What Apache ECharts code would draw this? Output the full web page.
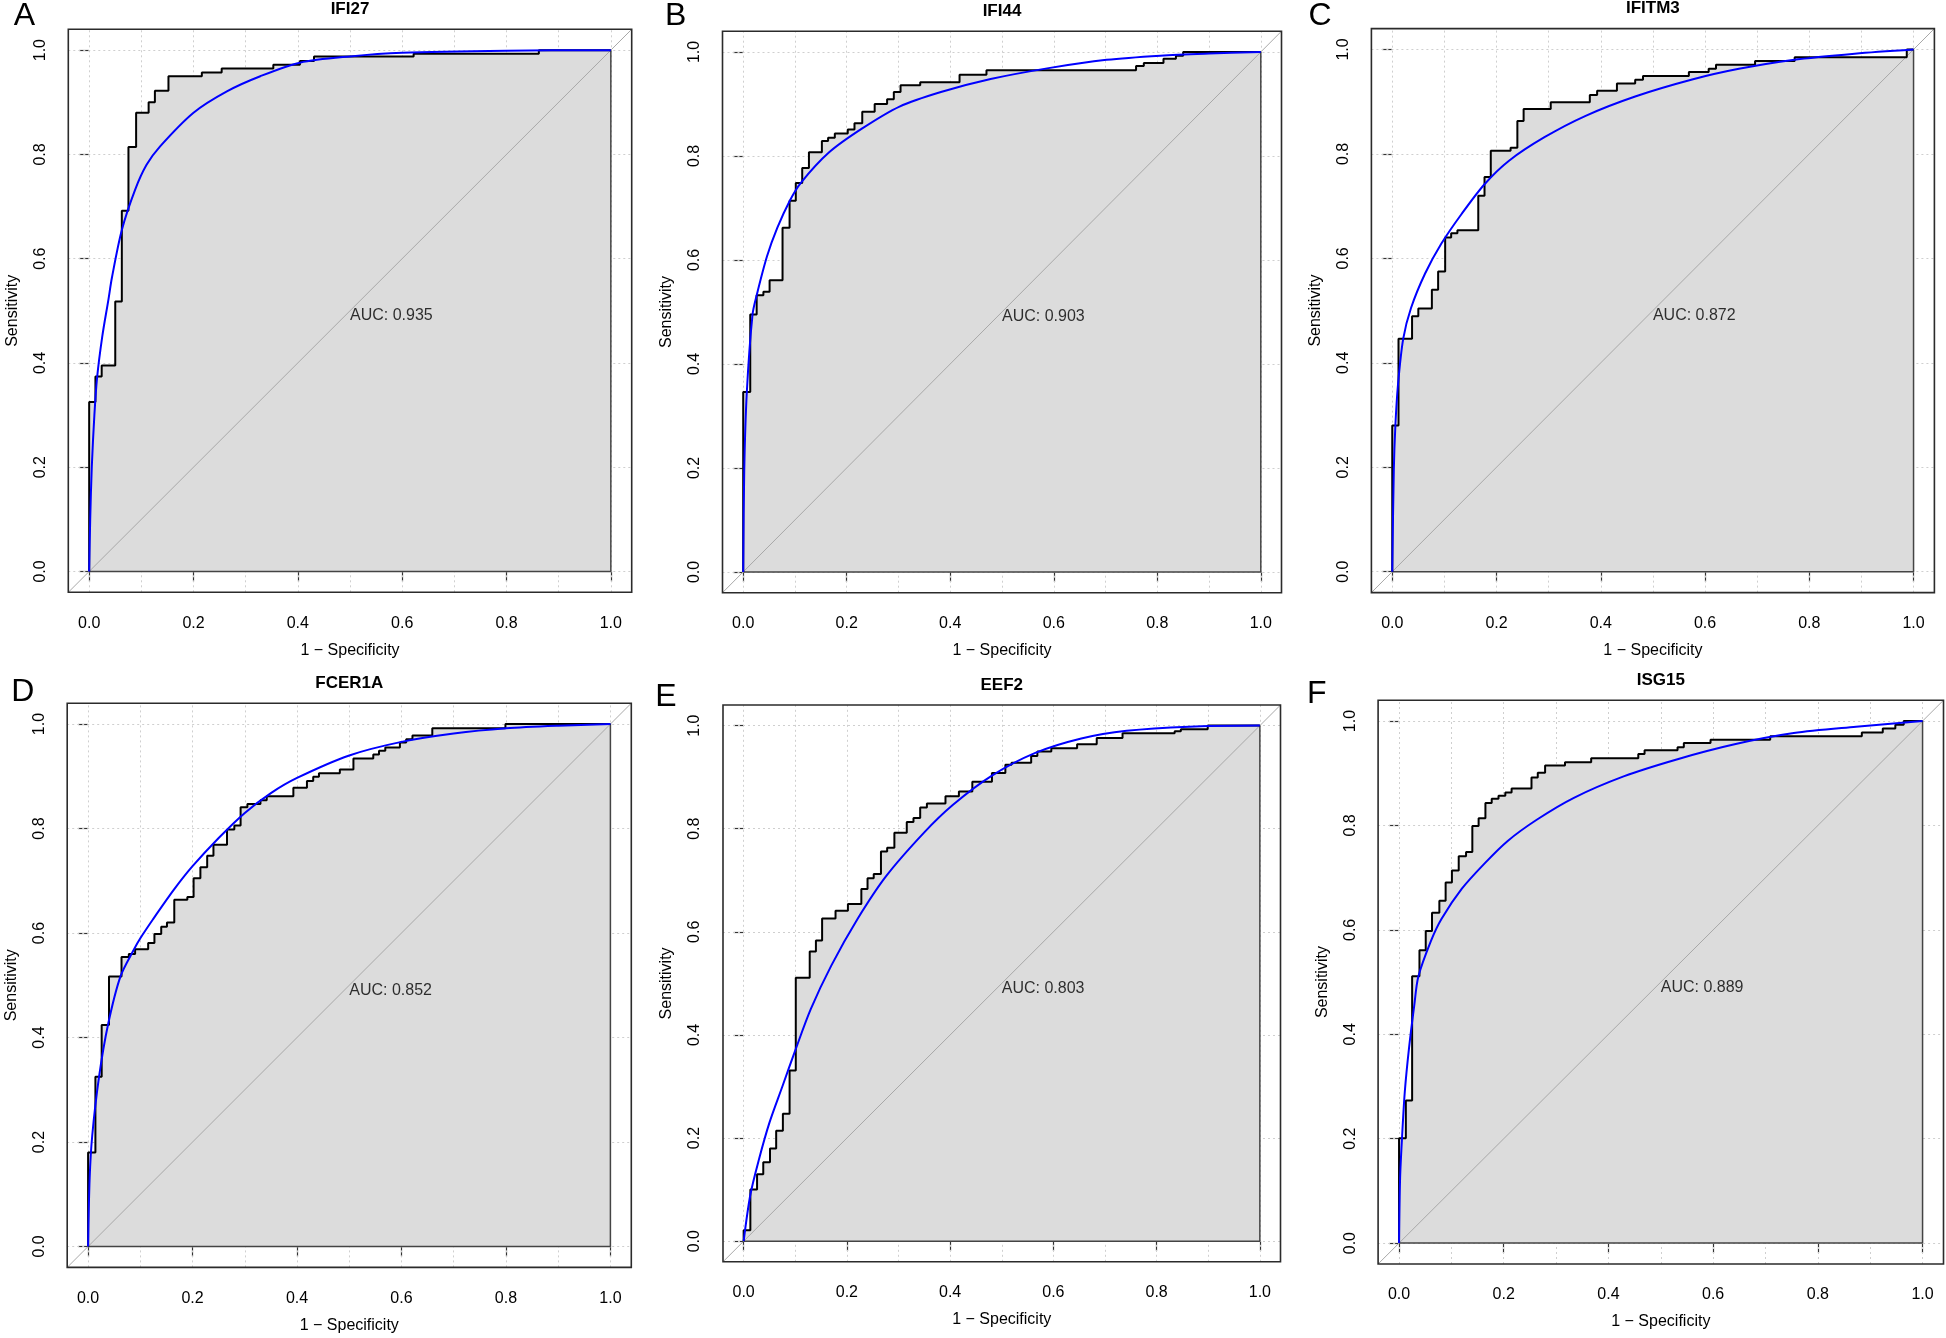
<!DOCTYPE html>
<html>
<head>
<meta charset="utf-8">
<script src="https://cdn.jsdelivr.net/npm/echarts@6/dist/echarts.min.js"></script>
<style>
html,body{margin:0;padding:0;background:#ffffff;}
#chart{width:1946px;height:1338px;}
</style>
</head>
<body>
<div id="chart"></div>
<script>
// ---------------- DATA ----------------
const panelLetters = ['A', 'B', 'C', 'D', 'E', 'F'];
const geneNames = ['IFI27', 'IFI44', 'IFITM3', 'FCER1A', 'EEF2', 'ISG15'];
const aucLabels = ['0.935', '0.903', '0.872', '0.852', '0.803', '0.889'];
const tickValues = [0, 0.2, 0.4, 0.6, 0.8, 1.0];
const gridLinesX = [0, 0.1, 0.2, 0.3, 0.4, 0.5, 0.6, 0.7, 0.8, 0.9, 1.0];
const gridLinesY = [0, 0.2, 0.4, 0.6, 0.8, 1.0];
const axisRange = [-0.04, 1.04];
const aucTextAt = [0.5, 0.5];

// IFI27 (A)
const ifi27StepFpr = [0, 0, 0.012, 0.024, 0.05, 0.0626, 0.0753, 0.09, 0.114, 0.126, 0.152, 0.216, 0.254, 0.353, 0.404, 0.431, 0.622, 0.862, 1];
const ifi27StepTpr = [0, 0.325, 0.374, 0.395, 0.518, 0.692, 0.814, 0.88, 0.9, 0.922, 0.95, 0.957, 0.965, 0.972, 0.979, 0.988, 0.993, 1.0, 1];
const ifi27FitFpr = [0, 0.002, 0.005, 0.01, 0.015, 0.025, 0.037, 0.0435, 0.0626, 0.088, 0.11, 0.136, 0.2, 0.264, 0.328, 0.404, 0.5, 0.6, 0.8, 1];
const ifi27FitTpr = [0, 0.1, 0.2, 0.3, 0.37, 0.45, 0.522, 0.563, 0.655, 0.732, 0.78, 0.8155, 0.88, 0.921, 0.95, 0.976, 0.988, 0.995, 0.999, 1];

// IFI44 (B)
const ifi44StepFpr = [0, 0, 0.0136, 0.026, 0.039, 0.051, 0.076, 0.0896, 0.1016, 0.114, 0.127, 0.152, 0.164, 0.177, 0.202, 0.215, 0.23, 0.254, 0.278, 0.291, 0.304, 0.342, 0.418, 0.47, 0.759, 0.774, 0.812, 0.836, 0.85, 1];
const ifi44StepTpr = [0, 0.346, 0.495, 0.532, 0.539, 0.561, 0.662, 0.714, 0.748, 0.777, 0.807, 0.829, 0.835, 0.843, 0.851, 0.863, 0.885, 0.9, 0.909, 0.923, 0.936, 0.942, 0.956, 0.965, 0.973, 0.979, 0.987, 0.993, 1.0, 1];
const ifi44FitFpr = [0, 0.002, 0.007, 0.018, 0.026, 0.046, 0.066, 0.09, 0.111, 0.166, 0.23, 0.302, 0.382, 0.478, 0.59, 0.702, 0.806, 0.9, 1];
const ifi44FitTpr = [0, 0.195, 0.346, 0.495, 0.532, 0.607, 0.662, 0.714, 0.748, 0.807, 0.853, 0.895, 0.923, 0.948, 0.969, 0.985, 0.993, 0.997, 1];

// IFITM3 (C)
const ifitm3StepFpr = [0, 0, 0.012, 0.038, 0.05, 0.076, 0.088, 0.1015, 0.113, 0.125, 0.165, 0.177, 0.189, 0.227, 0.24, 0.252, 0.304, 0.379, 0.393, 0.431, 0.466, 0.481, 0.569, 0.607, 0.621, 0.696, 0.772, 0.987, 1];
const ifitm3StepTpr = [0, 0.28, 0.446, 0.489, 0.504, 0.54, 0.575, 0.64, 0.648, 0.654, 0.72, 0.756, 0.806, 0.812, 0.863, 0.886, 0.899, 0.913, 0.921, 0.935, 0.942, 0.949, 0.957, 0.963, 0.971, 0.978, 0.985, 1.0, 1];
const ifitm3FitFpr = [0, 0.003, 0.006, 0.011, 0.021, 0.036, 0.063, 0.094, 0.133, 0.177, 0.224, 0.292, 0.371, 0.466, 0.577, 0.665, 0.768, 0.887, 1];
const ifitm3FitTpr = [0, 0.195, 0.28, 0.358, 0.446, 0.505, 0.571, 0.628, 0.685, 0.742, 0.787, 0.832, 0.873, 0.91, 0.943, 0.963, 0.98, 0.992, 1];

// FCER1A (D)
const fcer1aStepFpr = [0, 0, 0.014, 0.026, 0.04, 0.064, 0.078, 0.09, 0.115, 0.127, 0.14, 0.151, 0.165, 0.19, 0.202, 0.215, 0.228, 0.24, 0.266, 0.28, 0.292, 0.305, 0.33, 0.342, 0.393, 0.419, 0.431, 0.442, 0.482, 0.508, 0.546, 0.557, 0.569, 0.597, 0.609, 0.621, 0.659, 0.799, 1];
const fcer1aStepTpr = [0, 0.18, 0.325, 0.424, 0.517, 0.554, 0.56, 0.569, 0.581, 0.598, 0.612, 0.62, 0.664, 0.669, 0.705, 0.726, 0.748, 0.769, 0.798, 0.806, 0.841, 0.847, 0.854, 0.862, 0.878, 0.891, 0.899, 0.906, 0.913, 0.934, 0.942, 0.949, 0.955, 0.965, 0.971, 0.978, 0.992, 1.0, 1];
const fcer1aFitFpr = [0, 0.003, 0.008, 0.021, 0.038, 0.062, 0.088, 0.1, 0.124, 0.165, 0.2, 0.25, 0.3, 0.35, 0.4, 0.5, 0.6, 0.7, 0.8, 0.9, 1];
const fcer1aFitTpr = [0, 0.131, 0.213, 0.325, 0.424, 0.517, 0.569, 0.59, 0.626, 0.684, 0.728, 0.782, 0.83, 0.868, 0.897, 0.94, 0.966, 0.982, 0.992, 0.997, 1];

// EEF2 (E)
const eef2StepFpr = [0, 0, 0.013, 0.026, 0.038, 0.051, 0.063, 0.076, 0.089, 0.101, 0.128, 0.14, 0.152, 0.178, 0.202, 0.228, 0.24, 0.252, 0.266, 0.278, 0.292, 0.316, 0.329, 0.342, 0.355, 0.391, 0.417, 0.443, 0.481, 0.507, 0.519, 0.557, 0.569, 0.596, 0.646, 0.684, 0.734, 0.835, 0.847, 0.899, 1];
const eef2StepTpr = [0, 0.021, 0.1, 0.13, 0.153, 0.18, 0.214, 0.247, 0.331, 0.511, 0.562, 0.583, 0.626, 0.641, 0.654, 0.683, 0.704, 0.712, 0.756, 0.763, 0.792, 0.813, 0.821, 0.841, 0.849, 0.863, 0.872, 0.891, 0.908, 0.924, 0.928, 0.941, 0.95, 0.956, 0.964, 0.976, 0.985, 0.989, 0.993, 1.0, 1];
const eef2FitFpr = [0, 0.013, 0.03, 0.05, 0.075, 0.1, 0.13, 0.17, 0.22, 0.276, 0.349, 0.405, 0.481, 0.565, 0.654, 0.742, 0.863, 1];
const eef2FitTpr = [0, 0.09, 0.16, 0.23, 0.3, 0.37, 0.45, 0.535, 0.624, 0.708, 0.792, 0.846, 0.903, 0.947, 0.975, 0.99, 0.998, 1];

// ISG15 (F)
const isg15StepFpr = [0, 0, 0.013, 0.025, 0.039, 0.051, 0.063, 0.077, 0.089, 0.101, 0.114, 0.128, 0.14, 0.152, 0.165, 0.177, 0.19, 0.203, 0.215, 0.253, 0.265, 0.279, 0.317, 0.367, 0.457, 0.469, 0.532, 0.544, 0.595, 0.709, 0.884, 0.924, 0.948, 0.964, 1];
const isg15StepTpr = [0, 0.201, 0.273, 0.511, 0.561, 0.598, 0.633, 0.656, 0.691, 0.714, 0.741, 0.749, 0.799, 0.814, 0.843, 0.851, 0.857, 0.863, 0.871, 0.892, 0.901, 0.915, 0.921, 0.929, 0.937, 0.944, 0.95, 0.958, 0.964, 0.971, 0.978, 0.986, 0.993, 1.0, 1];
const isg15FitFpr = [0, 0.002, 0.006, 0.011, 0.019, 0.029, 0.037, 0.061, 0.081, 0.12, 0.164, 0.207, 0.263, 0.334, 0.429, 0.532, 0.643, 0.754, 0.873, 1];
const isg15FitTpr = [0, 0.124, 0.207, 0.29, 0.373, 0.455, 0.511, 0.579, 0.621, 0.679, 0.728, 0.77, 0.811, 0.853, 0.894, 0.927, 0.956, 0.977, 0.989, 1];

// ---------------- LAYOUT ----------------
const boxes = [
  {left: 68.3, top: 29.3, width: 563.4, height: 563},
  {left: 722.5, top: 31.2, width: 559, height: 561.5},
  {left: 1371.4, top: 28.6, width: 563, height: 564},
  {left: 67.2, top: 703.2, width: 564.1, height: 564.2},
  {left: 723, top: 705, width: 557.5, height: 556.8},
  {left: 1378.1, top: 700.2, width: 565.4, height: 563.8}
];
const letterPos = [[24.3, 15.7], [675.7, 16.2], [1320, 16.2], [22.8, 692.4], [665.8, 696.7], [1316.7, 694.6]];

const stepFprs = [ifi27StepFpr, ifi44StepFpr, ifitm3StepFpr, fcer1aStepFpr, eef2StepFpr, isg15StepFpr];
const stepTprs = [ifi27StepTpr, ifi44StepTpr, ifitm3StepTpr, fcer1aStepTpr, eef2StepTpr, isg15StepTpr];
const fitFprs = [ifi27FitFpr, ifi44FitFpr, ifitm3FitFpr, fcer1aFitFpr, eef2FitFpr, isg15FitFpr];
const fitTprs = [ifi27FitTpr, ifi44FitTpr, ifitm3FitTpr, fcer1aFitTpr, eef2FitTpr, isg15FitTpr];

const FONT = "'Liberation Sans', Arial, Helvetica, sans-serif";
const zip = (a, b) => a.map((v, i) => [v, b[i]]);

const grids = [], xAxes = [], yAxes = [], series = [], graphics = [];

for (let i = 0; i < 6; i++) {
  const b = boxes[i];
  grids.push({
    left: b.left, top: b.top, width: b.width, height: b.height,
    show: true, borderColor: '#2b2b2b', borderWidth: 1.6, backgroundColor: 'transparent',
    containLabel: false, z: 8
  });
  xAxes.push({
    gridIndex: i, type: 'value', min: axisRange[0], max: axisRange[1],
    axisLine: {show: false},
    axisTick: {show: true, customValues: tickValues, length: 10, inside: false, lineStyle: {color: '#333', width: 1.2}},
    axisLabel: {show: true, customValues: tickValues, formatter: v => v.toFixed(1), fontSize: 16, color: '#000', margin: 23, fontFamily: FONT},
    splitLine: {show: false},
    name: '1 − Specificity', nameLocation: 'middle', nameGap: 50,
    nameTextStyle: {fontSize: 16, color: '#000', fontFamily: FONT}
  });
  yAxes.push({
    gridIndex: i, type: 'value', min: axisRange[0], max: axisRange[1],
    axisLine: {show: false},
    axisTick: {show: true, customValues: tickValues, length: 10, inside: false, lineStyle: {color: '#333', width: 1.2}},
    axisLabel: {show: true, customValues: tickValues, formatter: v => v.toFixed(1), fontSize: 16, color: '#000', margin: 20, rotate: 90, align: 'center', verticalAlign: 'bottom', fontFamily: FONT},
    splitLine: {show: false},
    name: 'Sensitivity', nameLocation: 'middle', nameGap: 48,
    nameTextStyle: {fontSize: 16, color: '#000', fontFamily: FONT}
  });

  // dotted background grid (under the fill)
  series.push({
    type: 'line', xAxisIndex: i, yAxisIndex: i, z: 1, silent: true,
    data: [[aucTextAt[0], aucTextAt[1]]], symbol: 'none', lineStyle: {opacity: 0},
    markLine: {
      silent: true, symbol: 'none', label: {show: false}, animation: false, z: 1,
      lineStyle: {type: [2, 3], color: '#cfcfcf', width: 1},
      data: gridLinesX.map(v => ({xAxis: v})).concat(gridLinesY.map(v => ({yAxis: v})))
    }
  });
  const steps = zip(stepFprs[i], stepTprs[i]);
  // gray AUC polygon fill
  series.push({
    type: 'line', xAxisIndex: i, yAxisIndex: i, z: 2, silent: true, step: 'end',
    data: steps, symbol: 'none', lineStyle: {width: 0, opacity: 0},
    areaStyle: {color: '#dcdcdc', opacity: 1, origin: 0}
  });
  // diagonal reference
  series.push({
    type: 'line', xAxisIndex: i, yAxisIndex: i, z: 3, silent: true,
    data: [[axisRange[0], axisRange[0]], [axisRange[1], axisRange[1]]],
    symbol: 'none', lineStyle: {color: '#a8a8a8', width: 1}
  });
  // polygon border (bottom & right)
  const fprs = stepFprs[i], tprs = stepTprs[i];
  const last = fprs.length - 1;
  series.push({
    type: 'line', xAxisIndex: i, yAxisIndex: i, z: 4, silent: true,
    data: [[fprs[0], tprs[0]], [fprs[last], tprs[0]], [fprs[last], tprs[last]]],
    symbol: 'none', lineStyle: {color: '#444', width: 1.5}
  });
  // empirical ROC step curve
  series.push({
    type: 'line', xAxisIndex: i, yAxisIndex: i, z: 5, silent: true, step: 'end',
    data: steps, symbol: 'none', lineStyle: {color: '#000', width: 2}
  });
  // smoothed (binormal) curve
  series.push({
    type: 'line', xAxisIndex: i, yAxisIndex: i, z: 6, silent: true,
    data: zip(fitFprs[i], fitTprs[i]), symbol: 'none', smooth: 0.3,
    lineStyle: {color: '#0000ff', width: 2}
  });
  // AUC label
  series.push({
    type: 'scatter', xAxisIndex: i, yAxisIndex: i, z: 7, silent: true,
    data: [aucTextAt], symbolSize: 0, itemStyle: {color: 'rgba(0,0,0,0)'},
    label: {show: true, formatter: 'AUC: ' + aucLabels[i], position: [0, -3], align: 'left', verticalAlign: 'top',
      fontSize: 16, color: '#000', fontFamily: FONT}
  });

  graphics.push({
    type: 'text', x: b.left + b.width / 2, y: b.top - 20, silent: true,
    style: {text: geneNames[i], font: "bold 17px " + FONT, fill: '#000', align: 'center', verticalAlign: 'middle'}
  });
  graphics.push({
    type: 'text', x: letterPos[i][0], y: letterPos[i][1], silent: true,
    style: {text: panelLetters[i], font: "32px " + FONT, fill: '#000', align: 'center', verticalAlign: 'middle'}
  });
}

const chart = echarts.init(document.getElementById('chart'), null, {renderer: 'canvas'});
chart.setOption({
  animation: false,
  backgroundColor: '#ffffff',
  textStyle: {fontFamily: FONT},
  grid: grids,
  xAxis: xAxes,
  yAxis: yAxes,
  series: series,
  graphic: graphics
});
</script>
</body>
</html>
